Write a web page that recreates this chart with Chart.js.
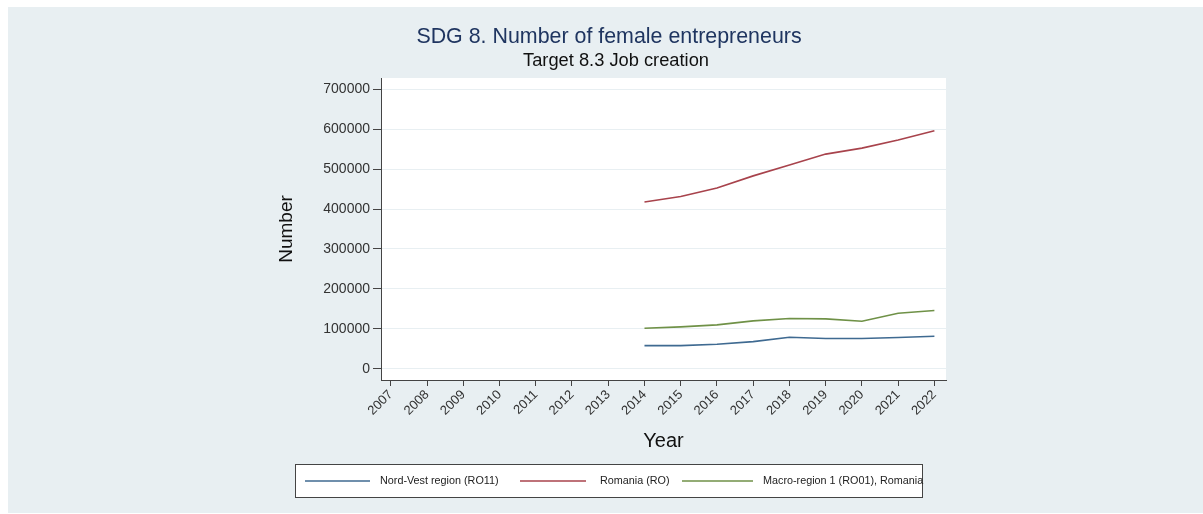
<!DOCTYPE html>
<html><head><meta charset="utf-8">
<script src="https://cdn.jsdelivr.net/npm/chart.js@4/dist/chart.umd.min.js"></script>
<style>html,body{margin:0;padding:0;background:#fff}#wrap{width:1203px;height:514px}</style>
</head><body><div id="wrap"><canvas id="c" width="1203" height="514"></canvas></div>
<script>
const years = [2014, 2015, 2016, 2017, 2018, 2019, 2020, 2021, 2022];
const nordVest = [58000, 58000, 61500, 68000, 79000, 76000, 76000, 78500, 81500];
const romania = [417500, 431500, 452500, 483000, 510000, 537500, 552500, 573000, 596000];
const macroRegion1 = [101500, 105000, 110000, 120000, 126000, 125000, 119000, 139000, 146000];
const seriesNames = ['Nord-Vest region (RO11)', 'Romania (RO)', 'Macro-region 1 (RO01), Romania'];
const yearTicks = [2007, 2008, 2009, 2010, 2011, 2012, 2013, 2014, 2015, 2016, 2017, 2018, 2019, 2020, 2021, 2022];
const valueTicks = [0, 100000, 200000, 300000, 400000, 500000, 600000, 700000];
const titleText = 'SDG 8. Number of female entrepreneurs';
const subtitleText = 'Target 8.3 Job creation';

const FONT = '"Liberation Sans", Arial, Helvetica, sans-serif';
const colors = ['#3f6a91', '#a8434c', '#6f9147'];
const toPoints = arr => years.map((y, i) => ({x: y, y: arr[i]}));

const bgPlugin = {
  id: 'bg',
  beforeDraw(chart) {
    const ctx = chart.ctx, a = chart.chartArea;
    ctx.save();
    ctx.fillStyle = '#ffffff';
    ctx.fillRect(0, 0, chart.width, chart.height);
    ctx.fillStyle = '#e8eff2';
    ctx.fillRect(8, 7, chart.width - 8, 506);
    ctx.fillStyle = '#ffffff';
    ctx.fillRect(a.left, a.top, a.right - a.left, a.bottom - a.top);
    ctx.restore();
  },
  afterDraw(chart) {
    const ctx = chart.ctx;
    ctx.save();
    ctx.textAlign = 'center';
    ctx.textBaseline = 'middle';
    ctx.fillStyle = '#1f3560';
    ctx.font = '21.4px ' + FONT;
    ctx.fillText(titleText, 609, 37);
    ctx.fillStyle = '#111111';
    ctx.font = '18.3px ' + FONT;
    ctx.fillText(subtitleText, 616, 61);
    // legend
    const bx = 295, by = 464, bw = 627, bh = 33;
    ctx.fillStyle = '#ffffff';
    ctx.fillRect(bx, by, bw, bh);
    ctx.strokeStyle = '#444444';
    ctx.lineWidth = 1;
    ctx.strokeRect(bx + 0.5, by + 0.5, bw, bh);
    const cy = by + bh / 2 + 0.5;
    const items = [[305, 370, 380], [520, 586, 600], [682, 753, 763]];
    ctx.font = '10.8px ' + FONT;
    ctx.textAlign = 'left';
    chart.data.datasets.forEach((ds, i) => {
      const [x0, x1, tx] = items[i];
      ctx.strokeStyle = ds.borderColor;
      ctx.lineWidth = 1.5;
      ctx.beginPath(); ctx.moveTo(x0, cy); ctx.lineTo(x1, cy); ctx.stroke();
      ctx.fillStyle = '#222222';
      ctx.fillText(ds.label, tx, cy);
    });
    ctx.restore();
  }
};

new Chart(document.getElementById('c'), {
  type: 'line',
  data: {
    datasets: [
      {label: seriesNames[0], data: toPoints(nordVest), borderColor: colors[0]},
      {label: seriesNames[1], data: toPoints(romania), borderColor: colors[1]},
      {label: seriesNames[2], data: toPoints(macroRegion1), borderColor: colors[2]}
    ]
  },
  options: {
    responsive: false,
    animation: false,
    devicePixelRatio: 1,
    layout: {padding: {left: 0, top: 78, right: 257, bottom: 0}},
    elements: {
      line: {borderWidth: 1.6, tension: 0, fill: false},
      point: {radius: 0, hoverRadius: 0}
    },
    plugins: {legend: {display: false}, title: {display: false}, tooltip: {enabled: false}},
    scales: {
      x: {
        type: 'linear',
        min: 2006.73,
        max: 2022.32,
        afterFit: s => { s.height = 134; },
        afterBuildTicks: s => { s.ticks = yearTicks.map(v => ({value: v})); },
        border: {display: true, color: '#444444', width: 1},
        grid: {display: true, drawOnChartArea: false, drawTicks: true, tickLength: 6, tickColor: '#444444'},
        ticks: {
          autoSkip: false, maxRotation: 45, minRotation: 45, padding: 1,
          color: '#333333', font: {family: FONT, size: 13},
          callback: v => String(v)
        },
        title: {display: true, text: 'Year', color: '#111111', font: {family: FONT, size: 20}, padding: {top: 0, bottom: 61}}
      },
      y: {
        type: 'linear',
        min: -28000,
        max: 728000,
        afterFit: s => { s.width = 381; },
        afterBuildTicks: s => { s.ticks = valueTicks.map(v => ({value: v})); },
        border: {display: true, color: '#444444', width: 1},
        grid: {display: true, color: '#e8eff2', lineWidth: 1, drawTicks: true, tickLength: 8, tickColor: '#444444'},
        ticks: {
          padding: 3, color: '#333333', font: {family: FONT, size: 14},
          callback: v => String(v)
        },
        title: {display: true, text: 'Number', color: '#111111', font: {family: FONT, size: 19}, padding: {top: 275, bottom: 0}}
      }
    }
  },
  plugins: [bgPlugin]
});
</script>
</body></html>
